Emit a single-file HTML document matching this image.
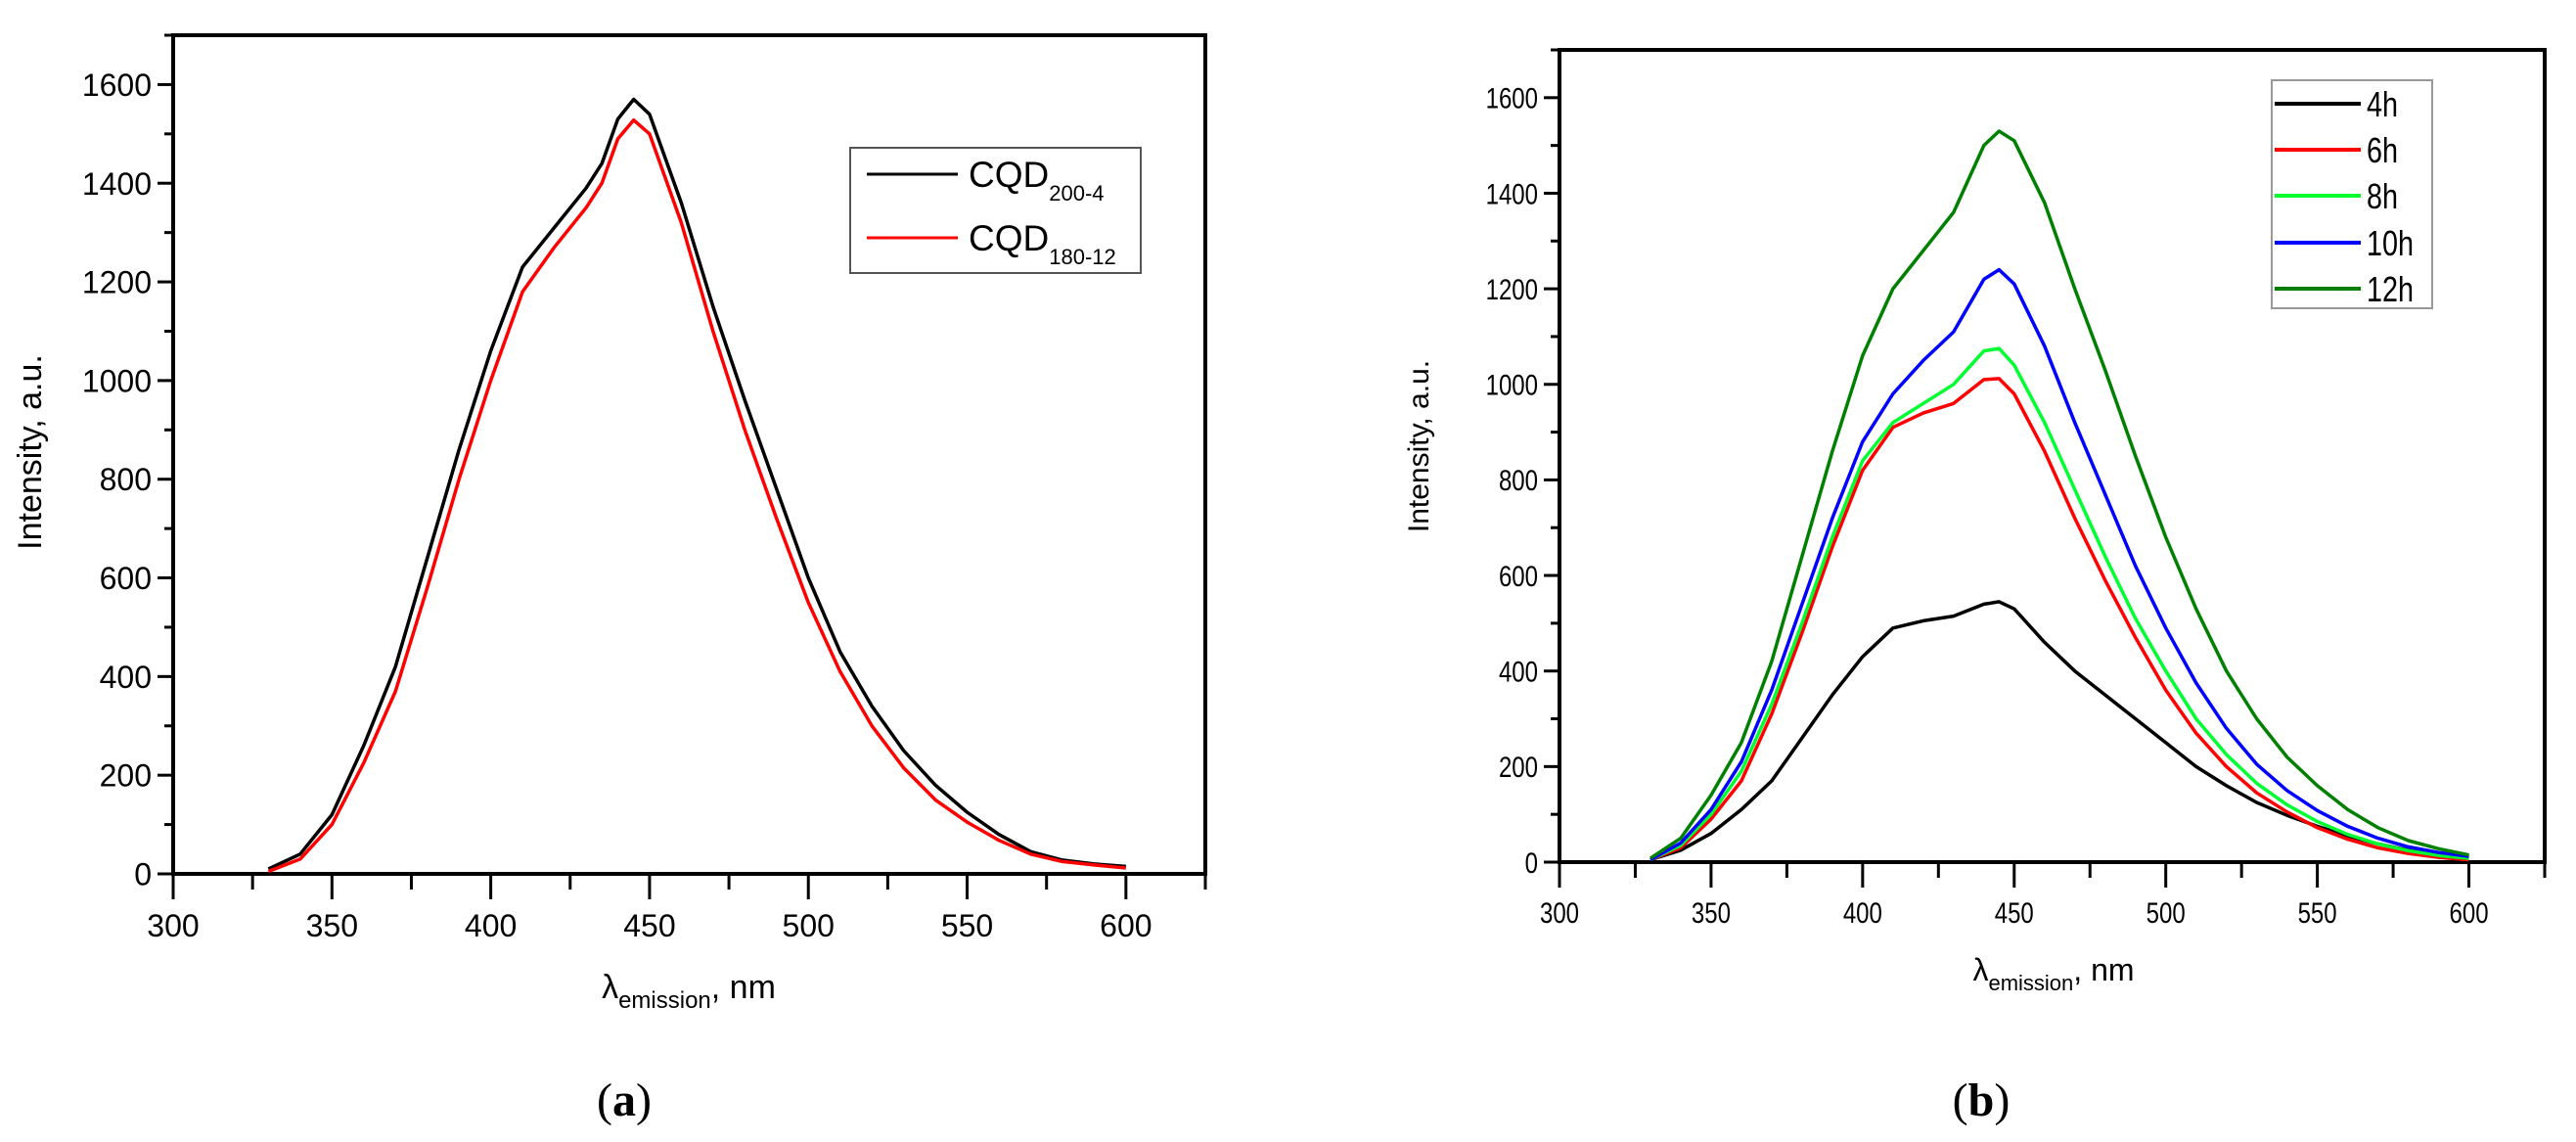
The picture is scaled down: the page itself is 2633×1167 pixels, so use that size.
<!DOCTYPE html>
<html><head><meta charset="utf-8">
<style>
html,body{margin:0;padding:0;background:#fff;}
svg{display:block;font-family:"Liberation Sans",Arial,sans-serif;}
</style></head>
<body>
<svg id="fig" width="2633" height="1167" viewBox="0 0 2633 1167" xmlns="http://www.w3.org/2000/svg">
<rect width="2633" height="1167" fill="#fff"/>
<g id="pa"></g>
<g id="pb"></g>
<text x="638" y="1140" font-size="48" text-anchor="middle" font-family="Liberation Serif, serif">(<tspan font-weight="bold">a</tspan>)</text>
<text x="2025" y="1140" font-size="48" text-anchor="middle" font-family="Liberation Serif, serif">(<tspan font-weight="bold">b</tspan>)</text>
</svg>
<script>
// Panel A data
const aX = [330,340,350,360,370,380,390,400,410,420,430,435,440,445,450,460,470,480,490,500,510,520,530,540,550,560,570,580,590,600];
const aBlack = [10,40,120,260,420,640,860,1060,1230,1310,1390,1440,1530,1570,1540,1360,1150,960,780,600,450,340,250,180,125,80,45,28,20,15];
const aRed = [5,30,100,225,370,580,800,1000,1180,1270,1350,1400,1490,1528,1500,1320,1100,900,720,550,410,300,215,150,105,68,40,25,18,12];
// Panel B data
const bX = [330,340,350,360,370,380,390,400,410,420,430,440,445,450,460,470,480,490,500,510,520,530,540,550,560,570,580,590,600];
const b4h = [5,25,60,110,170,260,350,430,490,505,515,540,545,530,460,400,350,300,250,200,160,125,98,75,55,38,25,15,10];
const b6h = [5,30,90,170,310,480,660,820,910,940,960,1010,1012,980,860,720,590,470,360,270,200,145,105,72,48,30,18,10,5];
const b8h = [5,35,100,190,330,500,680,840,920,960,1000,1070,1075,1040,920,780,640,510,400,300,225,165,120,85,58,38,24,14,8];
const b10h = [5,40,110,210,360,540,720,880,980,1050,1110,1220,1240,1210,1080,920,770,620,490,375,280,205,150,108,75,50,32,20,12];
const b12h = [8,50,140,250,420,640,860,1060,1200,1280,1360,1500,1530,1510,1380,1200,1030,850,680,530,400,300,220,160,110,72,45,28,15];
const xTicks = [300,350,400,450,500,550,600];
const yTicks = [0,200,400,600,800,1000,1200,1400,1600];

const NS = "http://www.w3.org/2000/svg";
function mk(parent, tag, attrs, text){
  const e = document.createElementNS(NS, tag);
  for (const k in attrs) e.setAttribute(k, attrs[k]);
  if (text !== undefined) e.textContent = text;
  parent.appendChild(e);
  return e;
}
function panel(g, cfg){
  const sx = v => cfg.x0 + (v-300)/(625-300)*(cfg.x1-cfg.x0);
  const sy = v => cfg.y0 - v/1700*(cfg.y0-cfg.yt);
  const frame = mk(g,'rect',{x:cfg.x0,y:cfg.yt,width:cfg.x1-cfg.x0,height:cfg.y0-cfg.yt,fill:'none',stroke:'#000','stroke-width':4});
  
  
  for (let v=0; v<=1700; v+=100){
    const major = v%200===0;
    const t = mk(g,'line',{x1:cfg.x0-(major?16:9),x2:cfg.x0,y1:sy(v),y2:sy(v),stroke:'#000','stroke-width':3});
    
    
  }
  for (let v=300; v<=625; v+=25){
    const major = v%50===0;
    const t = mk(g,'line',{x1:sx(v),x2:sx(v),y1:cfg.y0,y2:cfg.y0+(major?26:16),stroke:'#000','stroke-width':3});
    
    
  }
  yTicks.forEach(v=>{
    const t = mk(g,'text',{x:cfg.x0-22,y:sy(v)+cfg.fs*0.36,'font-size':cfg.fs,'text-anchor':'end',transform:cfg.sq?`translate(${cfg.x0-22},0) scale(${cfg.sq},1) translate(${-(cfg.x0-22)},0)`:''}, String(v));
    
    
  });
  xTicks.forEach(v=>{
    const t = mk(g,'text',{x:sx(v),y:cfg.y0+32+cfg.fs,'font-size':cfg.fs,'text-anchor':'middle',transform:cfg.sq?`translate(${sx(v)},0) scale(${cfg.sq},1) translate(${-sx(v)},0)`:''}, String(v));
    
    
  });
  cfg.series.forEach(s=>{
    const pts = cfg.xs.map((x,i)=>sx(x).toFixed(1)+','+sy(s.d[i]).toFixed(1)).join(' ');
    const p = mk(g,'polyline',{points:pts,fill:'none',stroke:s.c,'stroke-width':3.5,'stroke-linejoin':'round'});
    
    
  });
  return {sx,sy};
}
const pa = document.getElementById('pa');
panel(pa,{x0:177,x1:1232,y0:893,yt:36,fs:32,xs:aX,series:[{n:'cqd-200-4',c:'#000',d:aBlack},{n:'cqd-180-12',c:'#f00',d:aRed}]});
const pb = document.getElementById('pb');
panel(pb,{x0:1594,x1:2601,y0:881,yt:51,fs:30,sq:0.8,xs:bX,series:[
  {n:'4h',c:'#000',d:b4h},{n:'6h',c:'#f00',d:b6h},{n:'8h',c:'#00ff30',d:b8h},{n:'10h',c:'#0000ff',d:b10h},{n:'12h',c:'#008000',d:b12h}]});

// axis titles
let t;
t = mk(pa,'text',{x:704,y:1020,'font-size':34,'text-anchor':'middle'});
t.innerHTML = 'λ<tspan font-size="24" dy="10">emission</tspan><tspan dy="-10">, nm</tspan>';


t = mk(pa,'text',{x:0,y:0,'font-size':34,'text-anchor':'middle',transform:'translate(42,462) rotate(-90)'},'Intensity, a.u.');


t = mk(pb,'text',{x:2099,y:1002,'font-size':32,'text-anchor':'middle'});
t.innerHTML = 'λ<tspan font-size="22" dy="10">emission</tspan><tspan dy="-10">, nm</tspan>';


t = mk(pb,'text',{x:0,y:0,'font-size':30,'text-anchor':'middle',transform:'translate(1460,456) rotate(-90)'},'Intensity, a.u.');



// legend A
const la = mk(pa,'g',{});


mk(la,'rect',{x:869,y:151,width:297,height:128,fill:'#fff',stroke:'#555','stroke-width':2});
[['CQD','200-4','#000',178],['CQD','180-12','#f00',243]].forEach(e=>{
  const l = mk(la,'line',{x1:886,x2:979,y1:e[3],y2:e[3],stroke:e[2],'stroke-width':3});
  
  
  const tx = mk(la,'text',{x:990,y:e[3]+13,'font-size':37});
  tx.innerHTML = e[0]+'<tspan font-size="22" dy="14">'+e[1]+'</tspan>';
  
  
});
// legend B
const lb = mk(pb,'g',{});


mk(lb,'rect',{x:2322,y:82,width:164,height:233,fill:'#fff',stroke:'#999','stroke-width':2});
[['4h','#000',106],['6h','#f00',153],['8h','#00ff30',200],['10h','#0000ff',248],['12h','#008000',295]].forEach(e=>{
  const l = mk(lb,'line',{x1:2325,x2:2413,y1:e[2],y2:e[2],stroke:e[1],'stroke-width':4});
  
  
  const tx = mk(lb,'text',{x:2419,y:e[2]+13,'font-size':36,transform:`translate(2419,0) scale(0.8,1) translate(-2419,0)`},e[0]);
  
  
});
</script>
</body></html>
